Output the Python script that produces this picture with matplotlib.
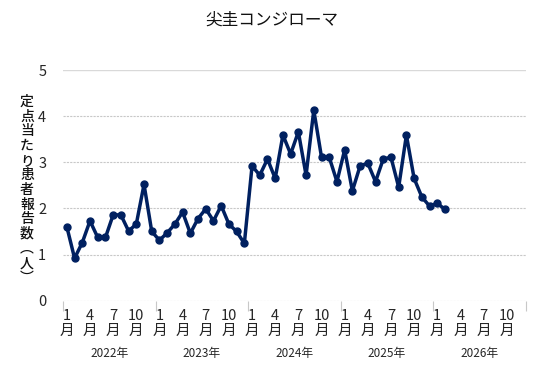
import matplotlib.pyplot as plt
import matplotlib.transforms as mtransforms
import numpy as np

plt.rcParams['font.family'] = ['Noto Sans CJK JP', 'DejaVu Sans']

# Monthly values, Jan 2022 - Feb 2026
values = [1.60, 0.92, 1.26, 1.73, 1.37, 1.37, 1.86, 1.86, 1.51, 1.66, 2.52, 1.50,
          1.31, 1.47, 1.66, 1.92, 1.46, 1.78, 1.99, 1.73, 2.06, 1.66, 1.50, 1.24,
          2.92, 2.72, 3.07, 2.65, 3.59, 3.18, 3.66, 2.72, 4.13, 3.11, 3.11, 2.58,
          3.27, 2.38, 2.92, 2.98, 2.58, 3.07, 3.11, 2.46, 3.59, 2.65, 2.25, 2.05,
          2.11, 1.98]
years = ['2022年', '2023年', '2024年', '2025年', '2026年']
label_months = [1, 4, 7, 10]
yticks = [0, 1, 2, 3, 4, 5]
title = '尖圭コンジローマ'
ylabel = '定点当たり患者報告数︵人︶'

line_color = '#002060'
text_color = '#262626'

fig = plt.figure(figsize=(5.49, 3.8), dpi=100)
ax = fig.add_axes([63 / 549, 1 - 300.7 / 380, 463 / 549, 230.7 / 380])

x = np.arange(len(values)) + 0.5
ax.plot(x, values, color=line_color, linewidth=2.5, marker='o', markersize=5)

n_months = len(years) * 12
ax.set_xlim(0, n_months)
ax.set_ylim(0, 5)

# grid
ax.set_yticks(yticks)
ax.set_yticklabels([str(v) for v in yticks], fontsize=10.5, color=text_color)
for v in yticks[1:-1]:
    ax.axhline(v, color='#c8c8c8', linewidth=0.8, linestyle=(0, (2, 1)), zorder=0)
ax.axhline(5, color='#d9d9d9', linewidth=1.0, zorder=0)
ax.axhline(0, color='#c8c8c8', linewidth=0.8, linestyle=(0, (2, 1)), zorder=0)
for s in ax.spines.values():
    s.set_visible(False)
ax.tick_params(axis='y', length=0, pad=12)

# month labels
month_pos = [yi * 12 + (m - 1) + 0.5 for yi in range(len(years)) for m in label_months]
month_lab = [f'{m}\n月' for _ in years for m in label_months]
ax.set_xticks(month_pos)
ax.set_xticklabels(month_lab, fontsize=10.5, color=text_color, linespacing=1.05)
ax.tick_params(axis='x', which='major', length=0, pad=6)
ax.set_xticks(np.arange(0, n_months + 1, 12), minor=True)
ax.tick_params(axis='x', which='minor', length=7, color='#c8c8c8', width=0.8)

trans = mtransforms.blended_transform_factory(ax.transData, fig.transFigure)
for i, yr in enumerate(years):
    ax.text(i * 12 + 6, 1 - 353 / 380, yr, transform=trans, ha='center', va='center',
            fontsize=8.5, color=text_color)

fig.text(272 / 549, 1 - 20 / 380, title, ha='center', va='center', fontsize=12,
         color='#111111')
fig.text(27 / 549, 1 - 190 / 380, '\n'.join(ylabel), ha='center', va='center',
         fontsize=10, linespacing=1.06, color='#111111', fontweight='medium')

fig.savefig('out.png', dpi=100)
